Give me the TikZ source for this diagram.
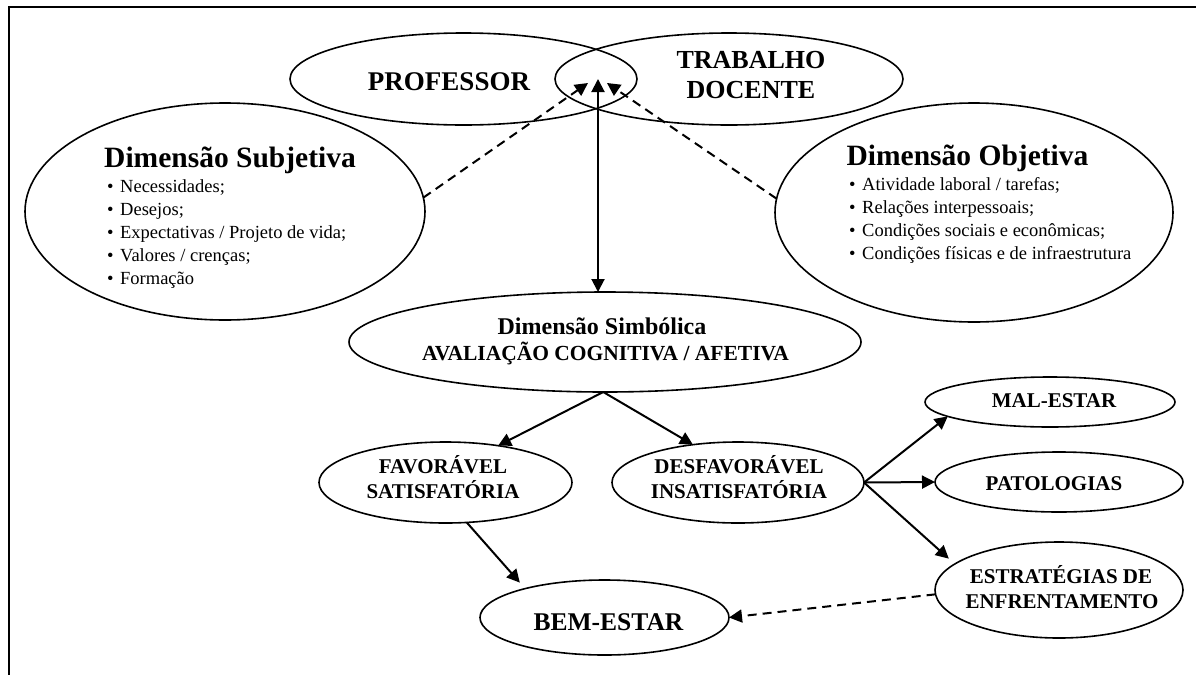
\documentclass[tikz,border=0pt]{standalone}
\usepackage{fontspec}
\setmainfont{Liberation Serif}
\usetikzlibrary{arrows.meta,shapes.geometric}
\newcommand{\myfs}[1]{\fontsize{#1}{#1}\selectfont}
\begin{document}
\begin{tikzpicture}[x=1pt,y=-1pt,
  ell/.style={draw, ellipse, line width=1.6pt, inner sep=0pt, outer sep=0pt},
  big/.style={font=\bfseries\myfs{26}, inner sep=0pt, anchor=base},
  ttl/.style={font=\bfseries\myfs{29.5}, inner sep=0pt, anchor=base},
  capt/.style={font=\bfseries\myfs{21}, inner sep=0pt, anchor=base},
  itemtxt/.style={font=\myfs{18.5}, inner sep=0pt, anchor=base west},
  arr/.style={line width=2pt, -{Triangle[length=13pt,width=13pt]}},
  darr/.style={arr, dash pattern=on 9pt off 6pt},
  ]
\useasboundingbox (0,0) rectangle (1196,675);
\draw[line width=2pt] (1196,7) -- (9,7) -- (9,675);

% ellipses
\node[ell, minimum width=347pt, minimum height=92pt] (prof) at (463.5,79) {};
\node[ell, minimum width=348pt, minimum height=92pt] (trab) at (729,79) {};
\node[ell, minimum width=400pt, minimum height=217pt] (subj) at (225,211.5) {};
\node[ell, minimum width=398pt, minimum height=219pt] (obj) at (974,212.5) {};
\node[ell, minimum width=512pt, minimum height=100pt] (simb) at (605,342) {};
\node[ell, minimum width=253pt, minimum height=81pt] (fav) at (445.5,482.5) {};
\node[ell, minimum width=252pt, minimum height=81pt] (desf) at (738,482.5) {};
\node[ell, minimum width=249pt, minimum height=75pt] (bem) at (604.5,617.5) {};
\node[ell, minimum width=250pt, minimum height=50pt] (mal) at (1050,402) {};
\node[ell, minimum width=248pt, minimum height=60pt] (pat) at (1059,482) {};
\node[ell, minimum width=248pt, minimum height=96pt] (est) at (1059,590) {};

% texts
\node[big, font=\bfseries\myfs{27}] (tprof) at (449,90) {PROFESSOR};
\node[big] (ttrab1) at (751,68) {TRABALHO};
\node[big] (ttrab2) at (751,98) {DOCENTE};

\node[ttl] (tsubj) at (230,167) {Dimensão Subjetiva};
\node[itemtxt] (s1) at (107,192) {\makebox[13pt][l]{\textbullet}Necessidades;};
\node[itemtxt] (s2) at (107,215) {\makebox[13pt][l]{\textbullet}Desejos;};
\node[itemtxt] (s3) at (107,238) {\makebox[13pt][l]{\textbullet}Expectativas / Projeto de vida;};
\node[itemtxt] (s4) at (107,261) {\makebox[13pt][l]{\textbullet}Valores / crenças;};
\node[itemtxt] (s5) at (107,284) {\makebox[13pt][l]{\textbullet}Formação};

\node[ttl] (tobj) at (967.5,165) {Dimensão Objetiva};
\node[itemtxt] (o1) at (849,190) {\makebox[13pt][l]{\textbullet}Atividade laboral / tarefas;};
\node[itemtxt] (o2) at (849,213) {\makebox[13pt][l]{\textbullet}Relações interpessoais;};
\node[itemtxt] (o3) at (849,236) {\makebox[13pt][l]{\textbullet}Condições sociais e econômicas;};
\node[itemtxt] (o4) at (849,259) {\makebox[13pt][l]{\textbullet}Condições físicas e de infraestrutura};

\node[font=\bfseries\myfs{24}, inner sep=0pt, anchor=base] (tsimb1) at (602,334) {Dimensão Simbólica};
\node[font=\bfseries\myfs{21.5}, inner sep=0pt, anchor=base] (tsimb2) at (605.5,360) {AVALIAÇÃO COGNITIVA / AFETIVA};

\node[capt] (tfav1) at (443,473) {FAVORÁVEL};
\node[capt] (tfav2) at (443,498) {SATISFATÓRIA};
\node[capt] (tdesf1) at (739,473) {DESFAVORÁVEL};
\node[capt] (tdesf2) at (739,498) {INSATISFATÓRIA};
\node[font=\bfseries\myfs{25.5}, inner sep=0pt, anchor=base] (tbem) at (608.5,630) {BEM-ESTAR};
\node[capt] (tmal) at (1054,407) {MAL-ESTAR};
\node[capt] (tpat) at (1054,490) {PATOLOGIAS};
\node[capt] (test1) at (1061,583) {ESTRATÉGIAS DE};
\node[capt] (test2) at (1062,608) {ENFRENTAMENTO};

% connectors
\coordinate (lens) at (598,79);
\coordinate (tipL) at (588,83);
\coordinate (tipR) at (607,83);
\draw[line width=2pt, {Triangle[length=13pt,width=13pt]}-{Triangle[length=13pt,width=13pt]}] (lens) -- (lens |- simb.north);
\draw[darr] (subj.4) -- (tipL);
\draw[darr] (obj.176) -- (tipR);
\draw[arr] (simb.268) -- (fav.35);
\draw[arr] (simb.268) -- (desf.140);
\draw[arr, shorten >=8pt] (fav.298) -- (bem.160);
\draw[arr] (desf.east) -- (mal.188);
\draw[arr] (desf.east) -- (pat.west);
\draw[arr, shorten >=8pt] (desf.east) -- (est.166);
\draw[darr] (est.182) -- (bem.east);
\end{tikzpicture}
\end{document}
